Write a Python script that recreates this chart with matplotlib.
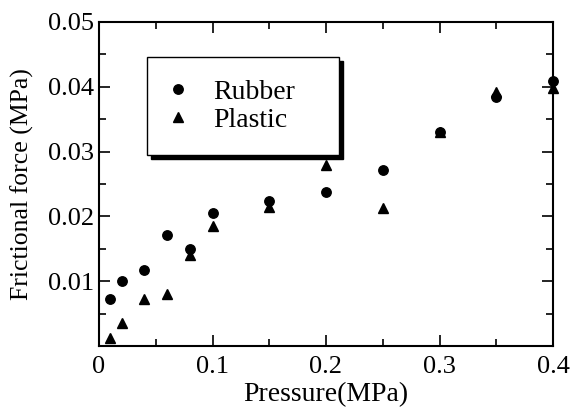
import matplotlib
matplotlib.use("Agg")
import matplotlib.pyplot as plt
from matplotlib.ticker import MultipleLocator

plt.rcParams['font.family'] = ['Liberation Serif', 'DejaVu Serif']

pressure = [0.01, 0.02, 0.04, 0.06, 0.08, 0.1, 0.15, 0.2, 0.25, 0.3, 0.35, 0.4]
rubber = [0.0072, 0.0100, 0.0117, 0.0172, 0.0149, 0.0205, 0.0224, 0.0237, 0.0272, 0.0330, 0.0385, 0.0409]
plastic = [0.0013, 0.0035, 0.0072, 0.0081, 0.0141, 0.0185, 0.0215, 0.0279, 0.0213, 0.0330, 0.0392, 0.0398]

xticks = [0, 0.1, 0.2, 0.3, 0.4]
xticklabels = ['0', '0.1', '0.2', '0.3', '0.4']
yticks = [0.01, 0.02, 0.03, 0.04, 0.05]
yticklabels = ['0.01', '0.02', '0.03', '0.04', '0.05']

fig = plt.figure(figsize=(5.71, 4.08), dpi=100)
ax = fig.add_axes([99/571, 1-346/408, 454/571, 324/408])

ax.plot(pressure, rubber, 'o', color='black', markersize=6.8, label='Rubber', clip_on=False)
ax.plot(pressure, plastic, '^', color='black', markersize=7.8, label='Plastic', clip_on=False)

ax.set_xlim(0, 0.4)
ax.set_ylim(0, 0.05)
ax.set_xticks(xticks)
ax.set_xticklabels(xticklabels)
ax.set_yticks(yticks)
ax.set_yticklabels(yticklabels)
ax.xaxis.set_minor_locator(MultipleLocator(0.05))
ax.yaxis.set_minor_locator(MultipleLocator(0.005))
ax.tick_params(which='both', direction='in', top=True, right=True, labelsize=19, width=1.2, colors='black')
ax.tick_params(which='major', length=8)
ax.tick_params(which='minor', length=5)
ax.tick_params(axis='x', which='major', pad=7)
ax.tick_params(axis='y', which='major', pad=3.5)
for s in ax.spines.values():
    s.set_linewidth(1.5)

ax.set_xlabel('Pressure(MPa)', fontsize=20, labelpad=3)
ax.set_ylabel('Frictional force (MPa)', fontsize=18.5, labelpad=10)

leg = ax.legend(loc='upper left', bbox_to_anchor=(0.106, 0.892, 0.423, 0.0), mode='expand',
                fontsize=20, frameon=True, fancybox=False, edgecolor='black',
                shadow={'color': 'black', 'alpha': 1, 'ox': 3, 'oy': -3},
                borderpad=0.8, handletextpad=0.97, labelspacing=0.09, borderaxespad=0,
                handlelength=0.6)
leg.get_frame().set_linewidth(1.0)
leg.get_frame().set_alpha(1)

fig.savefig('out.png', dpi=100)
